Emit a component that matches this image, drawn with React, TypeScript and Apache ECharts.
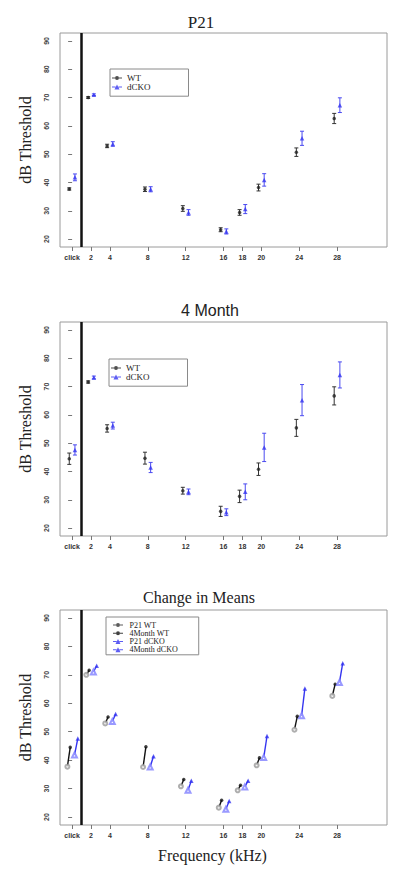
import { useEffect, useRef } from "react";
import * as echarts from "echarts";

// ---- data ----
const freqs = [0, 2, 4, 8, 12, 16, 18, 20, 24, 28];
const freqLabels = ["click", "2", "4", "8", "12", "16", "18", "20", "24", "28"];
const yTicks = [20, 30, 40, 50, 60, 70, 80, 90];

const p21WT = [37.7, 70.0, 52.9, 37.6, 30.8, 23.3, 29.4, 38.2, 50.7, 62.6];
const p21WTErr = [0.4, 0.3, 0.6, 0.8, 1.0, 0.7, 1.0, 1.2, 1.5, 1.8];
const p21dCKO = [41.8, 71.0, 53.6, 37.6, 29.4, 22.7, 30.6, 40.9, 55.6, 67.3];
const p21dCKOErr = [1.2, 0.3, 0.8, 0.9, 1.0, 0.9, 1.6, 2.2, 2.5, 2.6];

const m4WT = [44.5, 71.6, 55.2, 44.7, 33.2, 25.9, 31.2, 40.8, 55.4, 66.7];
const m4WTErr = [2.0, 0.4, 1.3, 2.1, 1.2, 1.8, 2.2, 2.2, 3.0, 3.2];
const m4dCKO = [47.6, 73.2, 56.2, 41.4, 32.8, 25.6, 32.8, 48.5, 65.2, 74.1];
const m4dCKOErr = [1.8, 0.5, 1.2, 1.8, 1.0, 1.2, 2.8, 5.0, 5.5, 4.6];

const titles = ["P21", "4 Month", "Change in Means"];

// ---- styles ----
const SERIF = "'Liberation Serif', 'Times New Roman', serif";
const SANS = "'Liberation Sans', Arial, sans-serif";
const BLACK = "#222222";
const BLUE = "#3434f0";
const BLUE_ERR = "#4a4af0";
const GRAY = "#9a9a9a";
const LIGHTBLUE = "#8080ff";

const X_MIN = -1.28;
const X_MAX = 33.28;
const Y_MIN = 17.2;
const Y_MAX = 92.8;

const circleIcon =
  "path://M0,2H3V3H0Z M7,2H10V3H7Z M3,2.5A2,2 0 1,1 7,2.5A2,2 0 1,1 3,2.5Z M5,0V5";
const triIcon = "path://M0,2H3.6V3H0Z M6.4,2H10V3H6.4Z M5,0L7.5,5H2.5Z";

const errRender = (color: string) => (params: any, api: any) => {
  const x = api.value(0);
  const y = api.value(1);
  const e = api.value(2);
  const t = api.coord([x, y + e]);
  const b = api.coord([x, y - e]);
  const w = 2;
  const style = { stroke: color, lineWidth: 1 };
  return {
    type: "group",
    children: [
      { type: "line", shape: { x1: t[0], y1: t[1], x2: b[0], y2: b[1] }, style },
      { type: "line", shape: { x1: t[0] - w, y1: t[1], x2: t[0] + w, y2: t[1] }, style },
      { type: "line", shape: { x1: b[0] - w, y1: b[1], x2: b[0] + w, y2: b[1] }, style },
    ],
  };
};

const segRender = (color: string) => (params: any, api: any) => {
  const a = api.coord([api.value(0), api.value(1)]);
  const b = api.coord([api.value(2), api.value(3)]);
  return {
    type: "line",
    shape: { x1: a[0], y1: a[1], x2: b[0], y2: b[1] },
    style: { stroke: color, lineWidth: 1.4 },
  };
};

const gridBoxes = [
  { left: 60, top: 33, width: 327, height: 214 },
  { left: 60, top: 322, width: 327, height: 214 },
  { left: 60, top: 610, width: 327, height: 215 },
];

function buildOption() {
  const grid = gridBoxes.map((g) => ({
    ...g,
    show: true,
    borderColor: "#9a9a9a",
    borderWidth: 1,
    backgroundColor: "transparent",
    containLabel: false,
  }));

  const xAxis = gridBoxes.map((_, i) => ({
    type: "value",
    gridIndex: i,
    min: X_MIN,
    max: X_MAX,
    axisLine: { show: false },
    splitLine: { show: false },
    axisTick: { show: true, customValues: freqs, length: 4, lineStyle: { color: "#777" } },
    axisLabel: {
      customValues: freqs,
      formatter: (v: number) => {
        const k = freqs.indexOf(v);
        return k >= 0 ? freqLabels[k] : "";
      },
      fontSize: 7,
      fontWeight: "bold",
      fontFamily: SANS,
      color: "#333",
      margin: 7,
    },
    ...(i === 2
      ? {
          name: "Frequency (kHz)",
          nameLocation: "middle",
          nameGap: 22,
          nameTextStyle: {
            fontFamily: SERIF,
            fontSize: 16,
            color: BLACK,
            padding: [0, 22, 0, 0],
          },
        }
      : {}),
  }));

  const yAxis = gridBoxes.map((_, i) => ({
    type: "value",
    gridIndex: i,
    min: Y_MIN,
    max: Y_MAX,
    axisLine: { show: false },
    splitLine: { show: false },
    axisTick: { show: true, customValues: yTicks, length: 4, lineStyle: { color: "#777" } },
    axisLabel: {
      customValues: yTicks,
      rotate: 90,
      fontSize: 7,
      fontWeight: "bold",
      fontFamily: SANS,
      color: "#444",
      margin: 10,
    },
    name: "dB Threshold",
    nameLocation: "middle",
    nameGap: 27,
    nameTextStyle: { fontFamily: SERIF, fontSize: 16, color: BLACK },
  }));

  const title = [
    { text: titles[0], left: 201, top: 14, textAlign: "center", padding: 0, textStyle: { fontFamily: SERIF, fontSize: 17, fontWeight: "normal", color: BLACK } },
    { text: titles[1], left: 210, top: 302, textAlign: "center", padding: 0, textStyle: { fontFamily: SANS, fontSize: 16, fontWeight: "normal", color: BLACK } },
    { text: titles[2], left: 199, top: 589, textAlign: "center", padding: 0, textStyle: { fontFamily: SERIF, fontSize: 16, fontWeight: "normal", color: BLACK } },
  ];

  const vline = {
    silent: true,
    symbol: ["none", "none"],
    label: { show: false },
    lineStyle: { color: "#111", width: 2.5, type: "solid" },
    data: [{ xAxis: 1 }],
  };

  const series: any[] = [];
  const panels = [
    { wt: p21WT, wtE: p21WTErr, ko: p21dCKO, koE: p21dCKOErr },
    { wt: m4WT, wtE: m4WTErr, ko: m4dCKO, koE: m4dCKOErr },
  ];
  panels.forEach((p, i) => {
    series.push({
      type: "custom",
      name: "WT err",
      xAxisIndex: i,
      yAxisIndex: i,
      renderItem: errRender("#333"),
      encode: { x: 0, y: 1 },
      data: freqs.map((f, k) => [f - 0.3, p.wt[k], p.wtE[k]]),
      silent: true,
    });
    series.push({
      type: "custom",
      name: "dCKO err",
      xAxisIndex: i,
      yAxisIndex: i,
      renderItem: errRender(BLUE_ERR),
      encode: { x: 0, y: 1 },
      data: freqs.map((f, k) => [f + 0.3, p.ko[k], p.koE[k]]),
      silent: true,
    });
    series.push({
      type: "scatter",
      name: "WT",
      xAxisIndex: i,
      yAxisIndex: i,
      symbol: "circle",
      symbolSize: 3.5,
      itemStyle: { color: BLACK },
      data: freqs.map((f, k) => [f - 0.3, p.wt[k]]),
      markLine: vline,
      z: 3,
    });
    series.push({
      type: "scatter",
      name: "dCKO",
      xAxisIndex: i,
      yAxisIndex: i,
      symbol: "triangle",
      symbolSize: 4.5,
      itemStyle: { color: BLUE },
      data: freqs.map((f, k) => [f + 0.3, p.ko[k]]),
      z: 3,
    });
  });

  // Change in Means panel
  series.push({
    type: "custom",
    name: "WT change",
    xAxisIndex: 2,
    yAxisIndex: 2,
    renderItem: segRender("#111"),
    encode: { x: [0, 2], y: [1, 3] },
    data: freqs.map((f, k) => [f - 0.5, p21WT[k], f - 0.2, m4WT[k]]),
    silent: true,
  });
  series.push({
    type: "custom",
    name: "dCKO change",
    xAxisIndex: 2,
    yAxisIndex: 2,
    renderItem: segRender(BLUE),
    encode: { x: [0, 2], y: [1, 3] },
    data: freqs.map((f, k) => [f + 0.25, p21dCKO[k], f + 0.6, m4dCKO[k]]),
    silent: true,
  });
  series.push({
    type: "scatter",
    name: "P21 WT",
    xAxisIndex: 2,
    yAxisIndex: 2,
    symbol: "emptyCircle",
    symbolSize: 4,
    itemStyle: { color: GRAY, borderWidth: 1 },
    data: freqs.map((f, k) => [f - 0.5, p21WT[k]]),
    markLine: vline,
    z: 3,
  });
  series.push({
    type: "scatter",
    name: "4Month WT",
    xAxisIndex: 2,
    yAxisIndex: 2,
    symbol: "circle",
    symbolSize: 3.5,
    itemStyle: { color: "#111" },
    data: freqs.map((f, k) => [f - 0.2, m4WT[k]]),
    z: 3,
  });
  series.push({
    type: "scatter",
    name: "P21 dCKO",
    xAxisIndex: 2,
    yAxisIndex: 2,
    symbol: "emptyTriangle",
    symbolSize: 5,
    itemStyle: { color: LIGHTBLUE, borderWidth: 1 },
    data: freqs.map((f, k) => [f + 0.25, p21dCKO[k]]),
    z: 3,
  });
  series.push({
    type: "scatter",
    name: "4Month dCKO",
    xAxisIndex: 2,
    yAxisIndex: 2,
    symbol: "triangle",
    symbolSize: 4.5,
    itemStyle: { color: BLUE },
    data: freqs.map((f, k) => [f + 0.6, m4dCKO[k]]),
    z: 3,
  });

  const legendBase = {
    orient: "vertical",
    borderColor: "#8a8a8a",
    borderWidth: 1,
    itemGap: 0,
    selectedMode: false,
    backgroundColor: "#fff",
  };
  const legend = [
    {
      ...legendBase,
      left: 110,
      top: 69,
      padding: [4.6, 38, 4.6, 2],
      itemWidth: 10,
      itemHeight: 5,
      itemTextGap: 2,
      textStyle: { fontFamily: SERIF, fontSize: 9, lineHeight: 7.4, color: BLACK },
      data: [
        { name: "WT", icon: circleIcon, itemStyle: { color: BLACK } },
        { name: "dCKO", icon: triIcon, itemStyle: { color: BLUE } },
      ],
    },
    {
      ...legendBase,
      left: 109,
      top: 359,
      padding: [4.6, 38, 4.6, 2],
      itemWidth: 10,
      itemHeight: 5,
      itemTextGap: 2,
      textStyle: { fontFamily: SERIF, fontSize: 9, lineHeight: 7.4, color: BLACK },
      data: [
        { name: "WT", icon: circleIcon, itemStyle: { color: BLACK } },
        { name: "dCKO", icon: triIcon, itemStyle: { color: BLUE } },
      ],
    },
    {
      ...legendBase,
      left: 106,
      top: 617,
      padding: [4, 21, 1, 7],
      itemWidth: 13,
      itemHeight: 5,
      itemTextGap: 2,
      textStyle: { fontFamily: SERIF, fontSize: 8, lineHeight: 8.2, color: BLACK },
      data: [
        { name: "P21 WT", icon: circleIcon, itemStyle: { color: "#333" } },
        { name: "4Month WT", icon: circleIcon, itemStyle: { color: "#111" } },
        { name: "P21 dCKO", icon: triIcon, itemStyle: { color: BLUE } },
        { name: "4Month dCKO", icon: triIcon, itemStyle: { color: BLUE } },
      ],
    },
  ];

  return {
    animation: false,
    backgroundColor: "#ffffff",
    title,
    grid,
    xAxis,
    yAxis,
    legend,
    series,
  };
}

export default function App() {
  const ref = useRef<HTMLDivElement>(null);
  useEffect(() => {
    if (!ref.current) return;
    const chart = echarts.init(ref.current, undefined, { renderer: "svg" });
    chart.setOption(buildOption() as any);
    return () => chart.dispose();
  }, []);
  return (
    <div
      ref={ref}
      style={{ position: "absolute", left: 0, top: 0, width: 400, height: 876, background: "#fff" }}
    />
  );
}
